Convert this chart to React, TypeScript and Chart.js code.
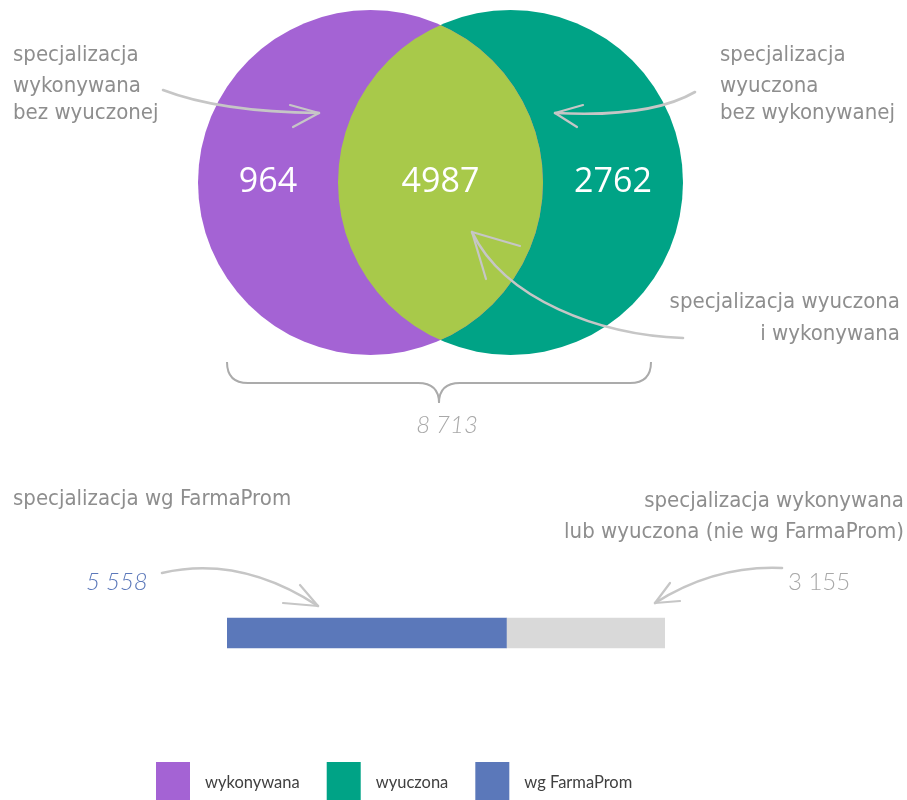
import React, { useEffect, useRef } from "react";
import { Chart, registerables } from "chart.js";

Chart.register(...registerables);

// ---------- DATA ----------
const vennSets = ["wykonywana", "wyuczona"];
const vennRegionValues = [964, 4987, 2762]; // only left, both, only right
const barLabels = ["wg FarmaProm", "nie wg FarmaProm"];
const barValues = [5558, 3155];
const legendLabels = ["wykonywana", "wyuczona", "wg FarmaProm"];

// ---------- STYLE / LAYOUT ----------
const PURPLE = "#A463D4";
const GREEN = "#00A386";
const LIME = "#A8C94A";
const BLUE = "#5B78BA";
const LIGHT = "#D9D9D9";
const legendColors = [PURPLE, GREEN, BLUE];
const NOTE = "#8e8e8e";
const NUMGRAY = "#a8a8a8";
const ARROW = "#c6c6c6";
const HAND = '"Liberation Sans Narrow", "DejaVu Sans Condensed", "Roboto", sans-serif';
const W = 907;
const H = 800;
const R = 172.5;

const fmt = (n: number) => String(n).replace(/\B(?=(\d{3})+(?!\d))/g, " ");

function arrow(ctx: CanvasRenderingContext2D, pts: number[], head: number[][]) {
  ctx.save();
  ctx.strokeStyle = ARROW;
  ctx.lineCap = "round";
  ctx.lineJoin = "round";
  ctx.lineWidth = 2.6;
  ctx.beginPath();
  ctx.moveTo(pts[0], pts[1]);
  if (pts.length === 6) ctx.quadraticCurveTo(pts[2], pts[3], pts[4], pts[5]);
  else ctx.bezierCurveTo(pts[2], pts[3], pts[4], pts[5], pts[6], pts[7]);
  ctx.stroke();
  const tx = pts[pts.length - 2];
  const ty = pts[pts.length - 1];
  ctx.lineWidth = 2.2;
  for (const h of head) {
    ctx.beginPath();
    ctx.moveTo(tx, ty);
    ctx.lineTo(h[0], h[1]);
    ctx.stroke();
  }
  ctx.restore();
}

function lines(ctx: CanvasRenderingContext2D, txt: string[], x: number, ys: number[], align: CanvasTextAlign) {
  ctx.textAlign = align;
  txt.forEach((t, i) => ctx.fillText(t, x, ys[i]));
}

const vennPlugin = {
  id: "vennDecor",
  afterDatasetsDraw(chart: any) {
    const ctx: CanvasRenderingContext2D = chart.ctx;
    const a = chart.getDatasetMeta(0).data[0];
    const b = chart.getDatasetMeta(1).data[0];
    const ra = a.options.radius;
    const rb = b.options.radius;
    // intersection
    ctx.save();
    ctx.beginPath();
    ctx.arc(a.x, a.y, ra, 0, Math.PI * 2);
    ctx.clip();
    ctx.beginPath();
    ctx.arc(b.x, b.y, rb, 0, Math.PI * 2);
    ctx.fillStyle = LIME;
    ctx.fill();
    ctx.restore();

    // region values
    const xs = [
      ((a.x - ra) + (b.x - rb)) / 2,
      ((b.x - rb) + (a.x + ra)) / 2,
      ((a.x + ra) + (b.x + rb)) / 2,
    ];
    ctx.save();
    ctx.fillStyle = "#ffffff";
    ctx.font = '34px "Open Sans", Lato, sans-serif';
    ctx.textAlign = "center";
    ctx.textBaseline = "middle";
    vennRegionValues.forEach((v, i) => ctx.fillText(String(v), xs[i], a.y));
    ctx.restore();
  },
  afterDraw(chart: any) {
    const ctx: CanvasRenderingContext2D = chart.ctx;
    ctx.save();
    // notes
    ctx.fillStyle = NOTE;
    ctx.font = `22px ${HAND}`;
    ctx.textBaseline = "alphabetic";
    lines(ctx, ["specjalizacja", "wykonywana", "bez wyuczonej"], 13, [61, 92, 119], "left");
    lines(ctx, ["specjalizacja", "wyuczona", "bez wykonywanej"], 720, [61, 92, 119], "left");
    lines(ctx, ["specjalizacja wyuczona", "i wykonywana"], 900, [308, 340], "right");

    arrow(ctx, [163, 90, 220, 112, 319, 113], [[290, 105], [293, 127]]);
    arrow(ctx, [695, 92, 650, 118, 555, 113], [[583, 105], [577, 127]]);
    arrow(ctx, [683, 338, 600, 335, 505, 300, 472, 232], [[520, 246], [486, 279]]);

    // brace
    ctx.strokeStyle = "#ababab";
    ctx.lineWidth = 2;
    ctx.beginPath();
    ctx.moveTo(227, 362);
    ctx.quadraticCurveTo(227, 383, 248, 383);
    ctx.lineTo(418, 383);
    ctx.quadraticCurveTo(439, 383, 439, 403);
    ctx.quadraticCurveTo(439, 383, 460, 383);
    ctx.lineTo(630, 383);
    ctx.quadraticCurveTo(651, 383, 651, 362);
    ctx.stroke();

    const total = vennRegionValues.reduce((s, v) => s + v, 0);
    ctx.fillStyle = NUMGRAY;
    ctx.font = 'italic 300 24px Lato, "Open Sans", sans-serif';
    ctx.textAlign = "center";
    ctx.fillText(fmt(total), 447, 433);
    ctx.restore();
  },
};

const barPlugin = {
  id: "barDecor",
  afterDraw(chart: any) {
    const ctx: CanvasRenderingContext2D = chart.ctx;
    ctx.save();
    ctx.fillStyle = NOTE;
    ctx.font = `22px ${HAND}`;
    ctx.textBaseline = "alphabetic";
    lines(ctx, ["specjalizacja wg FarmaProm"], 13, [505], "left");
    lines(ctx, ["specjalizacja wykonywana", "lub wyuczona (nie wg FarmaProm)"], 904, [507, 538], "right");

    ctx.font = 'italic 300 24px Lato, "Open Sans", sans-serif';
    ctx.fillStyle = BLUE;
    ctx.textAlign = "left";
    ctx.fillText(fmt(barValues[0]), 86, 590);
    ctx.font = '300 24px Lato, "Open Sans", sans-serif';
    ctx.fillStyle = NUMGRAY;
    ctx.fillText(fmt(barValues[1]), 788, 590);

    arrow(ctx, [162, 573, 240, 555, 318, 606], [[300, 585], [283, 603]]);
    arrow(ctx, [782, 568, 715, 565, 655, 603], [[670, 583], [680, 601]]);

    // legend
    ctx.font = '16.5px Lato, "Open Sans", sans-serif';
    ctx.textBaseline = "middle";
    let x = 156;
    legendLabels.forEach((lab, i) => {
      ctx.fillStyle = legendColors[i];
      ctx.fillRect(x, 762, 34, 38);
      ctx.fillStyle = "#404040";
      const tx = x + 49;
      ctx.fillText(lab, tx, 783);
      x = tx + ctx.measureText(lab).width + 27;
    });
    ctx.restore();
  },
};

export default function App() {
  const vennRef = useRef<HTMLCanvasElement>(null);
  const barRef = useRef<HTMLCanvasElement>(null);

  useEffect(() => {
    const venn = new Chart(vennRef.current as HTMLCanvasElement, {
      type: "bubble",
      data: {
        datasets: [
          { label: vennSets[0], data: [{ x: 0, y: 0, r: R }], backgroundColor: PURPLE, borderWidth: 0, hoverRadius: 0, clip: false } as any,
          { label: vennSets[1], data: [{ x: 1, y: 0, r: R }], backgroundColor: GREEN, borderWidth: 0, hoverRadius: 0, clip: false } as any,
        ],
      },
      options: {
        responsive: false,
        animation: false,
        events: [],
        layout: { autoPadding: false, padding: { left: 0, right: 0, top: 0, bottom: 435 } },
        scales: {
          x: { type: "linear", display: false, min: -370.5 / 140, max: (W - 370.5) / 140 },
          y: { type: "linear", display: false, min: -1, max: 1 },
        },
        plugins: { legend: { display: false }, tooltip: { enabled: false } },
      } as any,
      plugins: [vennPlugin],
    });

    const total = barValues.reduce((s, v) => s + v, 0);
    const bar = new Chart(barRef.current as HTMLCanvasElement, {
      type: "bar",
      data: {
        labels: [""],
        datasets: [
          { label: barLabels[0], data: [barValues[0]], backgroundColor: BLUE, borderWidth: 0, barThickness: 30 },
          { label: barLabels[1], data: [barValues[1]], backgroundColor: LIGHT, borderWidth: 0, barThickness: 30 },
        ],
      },
      options: {
        indexAxis: "y",
        responsive: false,
        animation: false,
        events: [],
        layout: { autoPadding: false, padding: { left: 227, right: 242, top: 603, bottom: 137 } },
        scales: {
          x: { stacked: true, display: false, min: 0, max: total },
          y: { stacked: true, display: false },
        },
        plugins: { legend: { display: false }, tooltip: { enabled: false } },
      } as any,
      plugins: [barPlugin],
    });

    return () => {
      venn.destroy();
      bar.destroy();
    };
  }, []);

  const cs: React.CSSProperties = { position: "absolute", left: 0, top: 0, width: W, height: H };
  return (
    <div style={{ position: "fixed", left: 0, top: 0, width: W, height: H, background: "#fff" }}>
      <canvas ref={barRef} width={W} height={H} style={cs} />
      <canvas ref={vennRef} width={W} height={H} style={cs} />
    </div>
  );
}
